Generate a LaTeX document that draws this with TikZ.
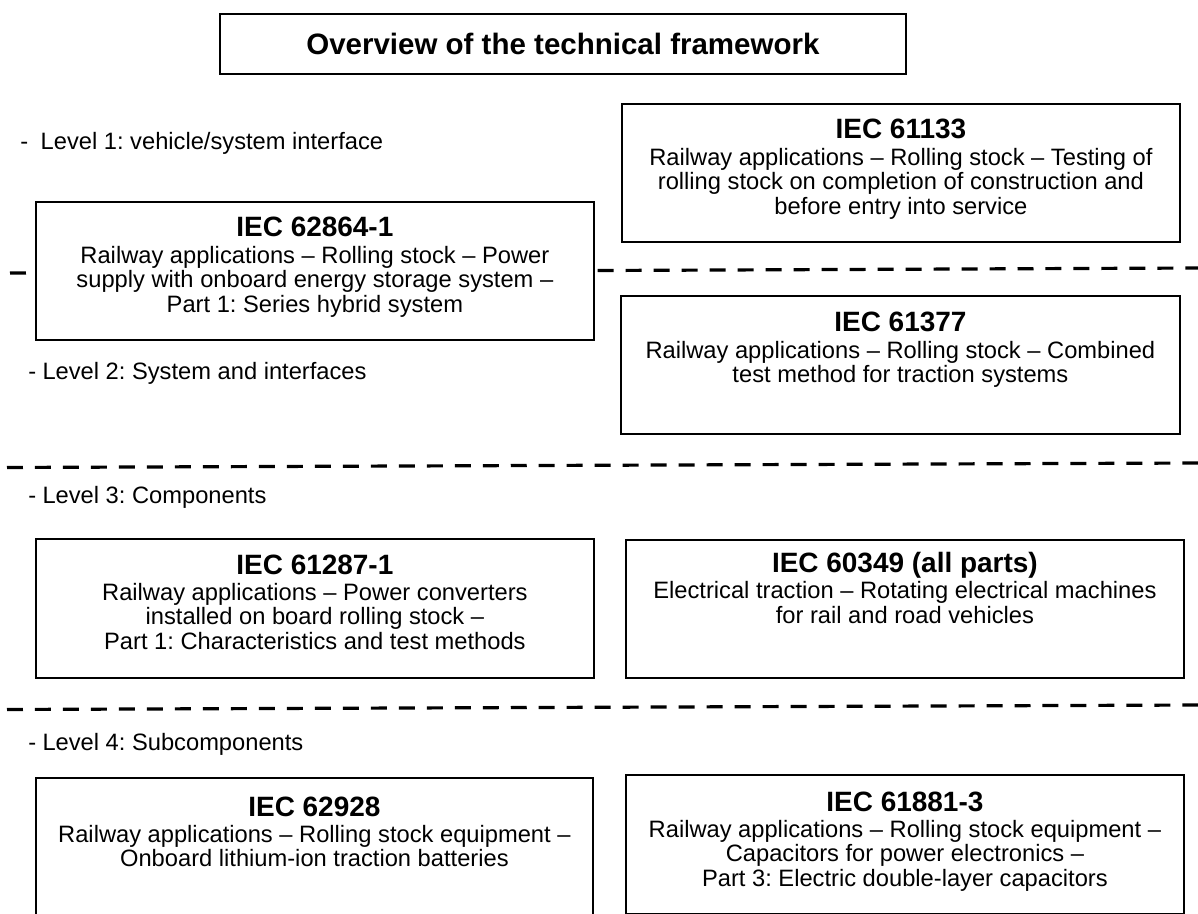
\documentclass[tikz,border=0pt]{standalone}
\usepackage{fontspec}
\setmainfont{Liberation Sans}
\usetikzlibrary{positioning}
\frenchspacing
\newcommand\iechead[1]{{\fontsize{11.8}{12}\selectfont\bfseries #1}\\[0.6pt]}
\begin{document}
\begin{tikzpicture}[x=0.422pt, y=-0.422pt, line join=miter,
		stdbox/.style={draw, line width=0.76pt, fill=white, inner sep=0pt, anchor=north west},
		stdtxt/.style={anchor=north, align=center, inner sep=0pt, font=\fontsize{10}{10.4}\selectfont},
		lvl/.style={anchor=west, inner sep=0pt, font=\fontsize{10}{12}\selectfont},
		sep/.style={line width=1.35pt, dash pattern=on 6.75pt off 5.06pt}]
	\def\px{0.422pt}
	\useasboundingbox (0,0) rectangle (1198,914);
	\clip (0,0) rectangle (1198,914);
	% level separators
	\coordinate (s1a) at (10,273); \coordinate (s1b) at (1198,268);
	\coordinate (s2a) at (7,467.5); \coordinate (s2b) at (1198,463);
	\coordinate (s3a) at (7,709.5); \coordinate (s3b) at (1198,705);
	\draw[sep] (s1a) -- (s1b);
	\draw[sep] (s2a) -- (s2b);
	\draw[sep] (s3a) -- (s3b);
	% title
	\node[stdbox, minimum width=686*\px, minimum height=60*\px, font=\fontsize{12.45}{14}\selectfont\bfseries] (title) at (219,13) {Overview of the technical framework};
	% levels
	\node[lvl] (lev1) at (20,143) {-\hskip 5.2pt Level 1: vehicle/system interface};
	\node[lvl] (lev2) at (28,373) {-\hskip 2.6pt Level 2: System and interfaces};
	\node[lvl] (lev3) at (28,497) {-\hskip 2.6pt Level 3: Components};
	\node[lvl] (lev4) at (28,744) {-\hskip 2.6pt Level 4: Subcomponents};
	% standards
	\node[stdbox, minimum width=558*\px, minimum height=138*\px] (b62864) at (35,201) {};
	\node[stdtxt, below=16*\px of b62864.north] (t62864) {\iechead{IEC 62864-1}Railway applications -- Rolling stock -- Power\\supply with onboard energy storage system --\\Part 1: Series hybrid system};
	\node[stdbox, minimum width=558*\px, minimum height=138*\px] (b61133) at (621,103) {};
	\node[stdtxt, below=16*\px of b61133.north] (t61133) {\iechead{IEC 61133}Railway applications -- Rolling stock -- Testing of\\rolling stock on completion of construction and\\before entry into service};
	\node[stdbox, minimum width=559*\px, minimum height=138*\px] (b61377) at (620,295) {};
	\node[stdtxt, below=17*\px of b61377.north] (t61377) {\iechead{IEC 61377}Railway applications -- Rolling stock -- Combined\\test method for traction systems};
	\node[stdbox, minimum width=558*\px, minimum height=139*\px] (b61287) at (35,538) {};
	\node[stdtxt, below=16*\px of b61287.north] (t61287) {\iechead{IEC 61287-1}Railway applications -- Power converters\\installed on board rolling stock --\\Part 1: Characteristics and test methods};
	\node[stdbox, minimum width=558*\px, minimum height=138*\px] (b60349) at (625,539) {};
	\node[stdtxt, below=13*\px of b60349.north] (t60349) {\iechead{IEC 60349 (all parts)}Electrical traction -- Rotating electrical machines\\for rail and road vehicles};
	\node[stdbox, minimum width=557*\px, minimum height=170*\px] (b62928) at (35,777) {};
	\node[stdtxt, below=19*\px of b62928.north] (t62928) {\iechead{IEC 62928}Railway applications -- Rolling stock equipment --\\Onboard lithium-ion traction batteries};
	\node[stdbox, minimum width=558*\px, minimum height=139*\px] (b61881) at (625,774) {};
	\node[stdtxt, below=17*\px of b61881.north] (t61881) {\iechead{IEC 61881-3}Railway applications -- Rolling stock equipment --\\Capacitors for power electronics --\\Part 3: Electric double-layer capacitors};
\end{tikzpicture}
\end{document}
